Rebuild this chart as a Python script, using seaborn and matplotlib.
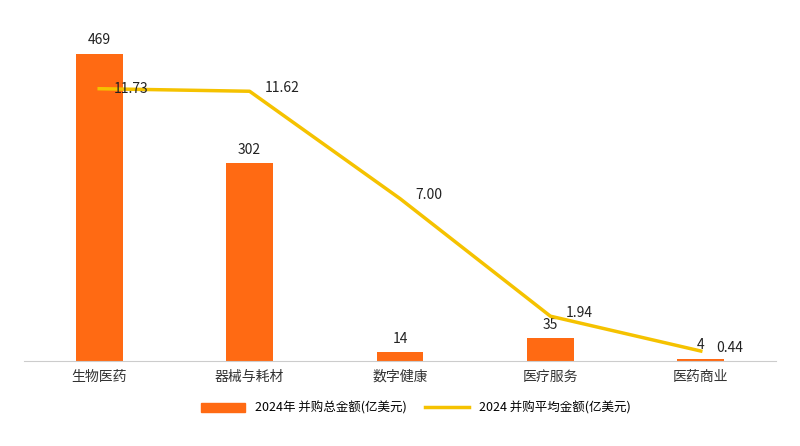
import matplotlib
matplotlib.use("Agg")
import matplotlib.pyplot as plt
from matplotlib import font_manager as fm
import seaborn as sns
import pandas as pd
from matplotlib.patches import Patch
from matplotlib.lines import Line2D

cjk = None
for f in fm.findSystemFonts():
    if "NotoSansCJK" in f.replace(" ", "") or "NotoSansSC" in f.replace(" ", ""):
        try:
            fm.fontManager.addfont(f)
            cjk = fm.FontProperties(fname=f).get_name()
            break
        except Exception:
            pass
plt.rcParams["font.family"] = [cjk or "Noto Sans CJK SC", "DejaVu Sans"]

categories = ["生物医药", "器械与耗材", "数字健康", "医疗服务", "医药商业"]
total_amount = [469, 302, 14, 35, 4]
avg_amount = [11.73, 11.62, 7.00, 1.94, 0.44]
bar_label = "2024年 并购总金额(亿美元)"
line_label = "2024 并购平均金额(亿美元)"

df = pd.DataFrame({"cat": categories, "total": total_amount, "avg": avg_amount})

fig = plt.figure(figsize=(8, 4.46), dpi=100)
ax = fig.add_axes([0.03, 0.19, 0.94, 0.745])
bar_color = "#FF6A13"
line_color = "#F5C200"
sns.barplot(data=df, x="cat", y="total", color=bar_color, width=0.31, ax=ax, saturation=1)
ax.set_ylim(0, 507)
for i, v in enumerate(total_amount):
    ax.text(i, v + 10, f"{v}", ha="center", va="bottom", fontsize=10, color="#222")

ax2 = ax.twinx()
ax2.plot(range(len(categories)), avg_amount, color=line_color, lw=2.5)
ax2.set_ylim(0, 14.3)
for i, v in enumerate(avg_amount):
    ax2.text(i + 0.1, v + (0 if i == 0 else 0.15), f"{v:.2f}", ha="left", va="center", fontsize=10, color="#222")

for a in (ax, ax2):
    for s in ["top", "right", "left"]:
        a.spines[s].set_visible(False)
    a.set_yticks([])
    a.set_ylabel("")
ax.spines["bottom"].set_color("#cccccc")
ax2.spines["bottom"].set_visible(False)
ax.set_xlabel("")
ax.tick_params(axis="x", length=0, labelsize=10, colors="#333", pad=6)
ax.set_xlim(-0.5, 4.5)

handles = [Patch(color=bar_color, label=bar_label),
           Line2D([0], [0], color=line_color, lw=2.5, label=line_label)]
fig.legend(handles=handles, loc="center", bbox_to_anchor=(0.52, 0.085), ncol=2,
           frameon=False, fontsize=9, handlelength=3.5, columnspacing=1.5)
fig.savefig("out.png", dpi=100)
